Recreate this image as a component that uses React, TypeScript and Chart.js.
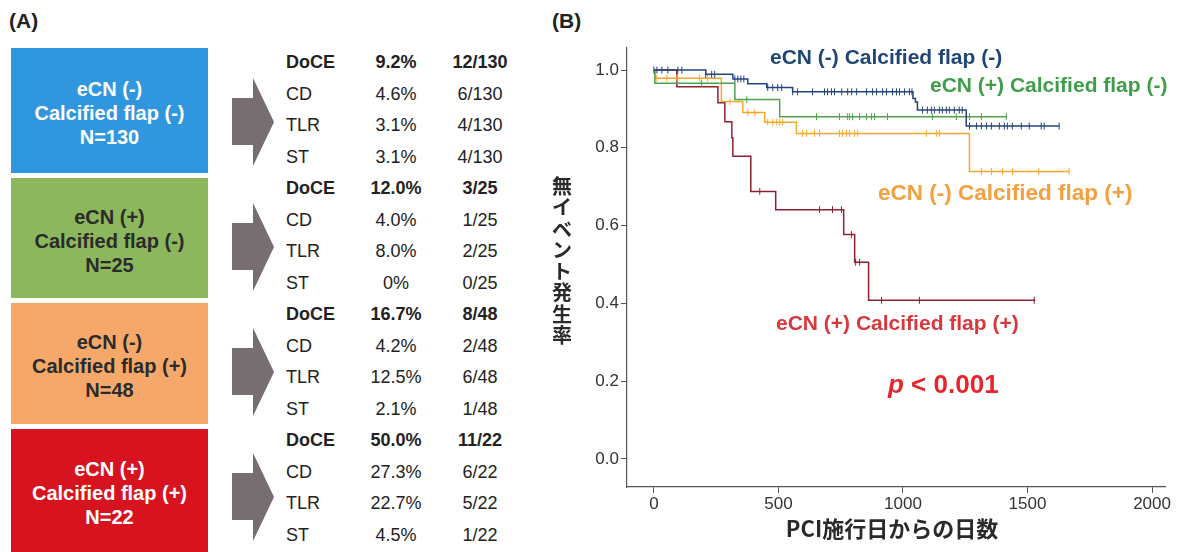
import React, { useEffect, useRef } from "react";
import { Chart, registerables } from "chart.js";
Chart.register(...registerables);

// ---------- Panel A data ----------
const groupECN = ["eCN (-)", "eCN (+)", "eCN (-)", "eCN (+)"];
const groupFlap = ["Calcified flap (-)", "Calcified flap (-)", "Calcified flap (+)", "Calcified flap (+)"];
const groupN = [130, 25, 48, 22];
const outcomes = ["DoCE", "CD", "TLR", "ST"];
const outcomePct = [
  ["9.2%", "4.6%", "3.1%", "3.1%"],
  ["12.0%", "4.0%", "8.0%", "0%"],
  ["16.7%", "4.2%", "12.5%", "2.1%"],
  ["50.0%", "27.3%", "22.7%", "4.5%"],
];
const outcomeCount = [
  ["12/130", "6/130", "4/130", "4/130"],
  ["3/25", "1/25", "2/25", "0/25"],
  ["8/48", "2/48", "6/48", "1/48"],
  ["11/22", "6/22", "5/22", "1/22"],
];

// ---------- Panel B data (Kaplan-Meier) ----------
const seriesNames = [
  "eCN (-) Calcified flap (-)",
  "eCN (+) Calcified flap (-)",
  "eCN (-) Calcified flap (+)",
  "eCN (+) Calcified flap (+)",
];
const xTicks = [0, 500, 1000, 1500, 2000];
const yTicks = [0, 0.2, 0.4, 0.6, 0.8, 1.0];

const blueTimes = [0, 208, 317, 377, 453, 557, 1040, 1050, 1058, 1254, 1627];
const blueSurv = [1.0, 0.989, 0.977, 0.965, 0.955, 0.944, 0.927, 0.918, 0.897, 0.856, 0.856];
const blueCensor = [0, 12, 32, 56, 96, 112, 208, 232, 244, 325, 337, 349, 361, 457, 477, 497, 513, 557, 577,
  637, 685, 697, 713, 725, 754, 778, 794, 814, 854, 878, 894, 918, 934, 958, 974, 986, 1006, 1026, 1036,
  1078, 1098, 1114, 1126, 1146, 1158, 1174, 1186, 1206, 1226, 1238,
  1267, 1295, 1315, 1335, 1355, 1387, 1407, 1419, 1439, 1475, 1507, 1555, 1567, 1627];

const greenTimes = [0, 4, 325, 505, 1415];
const greenSurv = [1.0, 0.966, 0.924, 0.88, 0.88];
const greenCensor = [192, 373, 653, 745, 778, 786, 798, 826, 854, 874, 886, 938, 1118, 1214, 1267, 1315, 1415];

const orangeTimes = [0, 3, 271, 357, 445, 572, 1267, 1667];
const orangeSurv = [1.0, 0.979, 0.919, 0.891, 0.866, 0.837, 0.739, 0.739];
const orangeCensor = [12, 52, 92, 184, 216, 305, 377, 405, 457, 477, 493, 505, 517, 597, 613, 645, 665, 745,
  757, 773, 786, 806, 818, 1094, 1134, 1146, 1315, 1355, 1400, 1440, 1545, 1667];

const redTimes = [0, 92, 257, 285, 313, 317, 389, 489, 762, 806, 862, 1531];
const redSurv = [1.0, 0.957, 0.916, 0.867, 0.826, 0.778, 0.688, 0.641, 0.577, 0.506, 0.408, 0.408];
const redCensor = [425, 665, 717, 753, 793, 810, 826, 914, 1066, 1527];

// ---------- styles ----------
const lineColors = ["#23457f", "#4ea24a", "#f4a92a", "#8e2033"];
const labelColors = ["#1f4676", "#3f9e4a", "#f5a03e", "#d6383d"];
const boxColors = ["#3097de", "#8cb75c", "#f5a86a", "#d7131f"];
const boxText = ["#ffffff", "#2b2b2b", "#2b2b2b", "#ffffff"];
const SANS = "'Liberation Sans', Arial, sans-serif";
const CJK = "'Noto Sans CJK JP', 'Liberation Sans', sans-serif";

function stepValue(times: number[], surv: number[], t: number) {
  let v = surv[0];
  for (let i = 0; i < times.length; i++) if (times[i] <= t) v = surv[i];
  return v;
}

function KMChart() {
  const ref = useRef<HTMLCanvasElement | null>(null);
  useEffect(() => {
    if (!ref.current) return;
    const groups = [
      [blueTimes, blueSurv, blueCensor],
      [greenTimes, greenSurv, greenCensor],
      [orangeTimes, orangeSurv, orangeCensor],
      [redTimes, redSurv, redCensor],
    ];
    const datasets: any[] = [];
    groups.forEach((g, k) => {
      const [T, S, C] = g;
      datasets.push({
        label: seriesNames[k],
        data: T.map((t, i) => ({ x: t, y: S[i] })),
        stepped: true,
        borderColor: lineColors[k],
        borderWidth: 1.5,
        pointRadius: 0,
        fill: false,
        order: k * 2 + 1,
      });
      datasets.push({
        label: seriesNames[k] + " censored",
        data: C.map((t) => ({ x: t, y: stepValue(T, S, t) })),
        showLine: false,
        pointStyle: "line",
        rotation: 90,
        pointRadius: 3.5,
        pointBorderWidth: 1,
        borderColor: lineColors[k],
        backgroundColor: lineColors[k],
        order: k * 2,
      });
    });
    const chart = new Chart(ref.current, {
      type: "line",
      data: { datasets },
      options: {
        animation: false,
        responsive: false,
        layout: { padding: { top: 48, right: 13, left: 0, bottom: 0 } },
        plugins: { legend: { display: false }, tooltip: { enabled: false } },
        scales: {
          x: {
            type: "linear",
            min: -108,
            max: 2052,
            afterBuildTicks: (s: any) => { s.ticks = xTicks.map((v) => ({ value: v })); },
            afterFit: (s: any) => { s.height = 65; },
            grid: { display: true, drawOnChartArea: false, drawTicks: true, tickLength: 6, color: "#555" },
            border: { display: true, color: "#555", width: 1.2 },
            ticks: { font: { size: 17, family: SANS }, color: "#333", padding: 1, maxRotation: 0, autoSkip: false, callback: (v: any) => String(v) },
          },
          y: {
            type: "linear",
            min: -0.072,
            max: 1.0566,
            afterBuildTicks: (s: any) => { s.ticks = yTicks.map((v) => ({ value: v })); },
            afterFit: (s: any) => { s.width = 87; },
            grid: { display: true, drawOnChartArea: false, drawTicks: true, tickLength: 6, color: "#555" },
            border: { display: true, color: "#555", width: 1.2 },
            ticks: { font: { size: 17, family: SANS }, color: "#333", padding: 2, autoSkip: false, callback: (v: any) => Number(v).toFixed(1) },
          },
        },
      },
    } as any);
    return () => chart.destroy();
  }, []);
  return <canvas ref={ref} width={638} height={552} style={{ position: "absolute", left: 540, top: 0, width: 638, height: 552 }} />;
}

export default function App() {
  const boxTops = [48, 178, 303, 429];
  const boxHeights = [125, 120, 121, 123];
  const rowY0 = 62;
  const rowStep = 31.5;
  const labelFont = 21;
  return (
    <div style={{ position: "fixed", left: 0, top: 0, width: 1178, height: 552, background: "#fff", overflow: "hidden", fontFamily: SANS, color: "#222" }}>
      {/* Panel A */}
      <div style={{ position: "absolute", left: 9, top: 9, fontSize: 21, fontWeight: "bold", lineHeight: "24px" }}>(A)</div>
      {groupECN.map((g, i) => (
        <div key={"box" + i} style={{ position: "absolute", left: 11, top: boxTops[i], width: 197, height: boxHeights[i], background: boxColors[i], color: boxText[i], display: "flex", flexDirection: "column", justifyContent: "center", alignItems: "center", fontWeight: "bold", fontSize: 20, lineHeight: "24px", paddingTop: 5, boxSizing: "border-box", whiteSpace: "nowrap" }}>
          <div>{g}</div>
          <div>{groupFlap[i]}</div>
          <div>N={groupN[i]}</div>
        </div>
      ))}
      {groupECN.map((_, i) => (
        <div key={"arr" + i} style={{ position: "absolute", left: 232, top: 78 + i * 125, width: 42, height: 88, background: "#776e71", clipPath: "polygon(0px 20px, 21px 20px, 21px 0px, 42px 44px, 21px 88px, 21px 67px, 0px 67px)" }} />
      ))}
      {outcomePct.map((grp, i) =>
        grp.map((p, j) => {
          const y = rowY0 + (i * 4 + j) * rowStep;
          const bold = j === 0 ? "bold" : "normal";
          return (
            <React.Fragment key={"r" + i + "_" + j}>
              <div style={{ position: "absolute", left: 286, top: y - 11, fontSize: 18, lineHeight: "22px", fontWeight: bold }}>{outcomes[j]}</div>
              <div style={{ position: "absolute", left: 346, width: 100, textAlign: "center", top: y - 11, fontSize: 18, lineHeight: "22px", fontWeight: bold }}>{p}</div>
              <div style={{ position: "absolute", left: 430, width: 100, textAlign: "center", top: y - 11, fontSize: 18, lineHeight: "22px", fontWeight: bold }}>{outcomeCount[i][j]}</div>
            </React.Fragment>
          );
        })
      )}
      {/* Panel B */}
      <div style={{ position: "absolute", left: 552, top: 9, fontSize: 21, fontWeight: "bold", lineHeight: "24px" }}>(B)</div>
      <KMChart />
      <div style={{ position: "absolute", left: 550, top: 175, width: 24, fontFamily: CJK, fontSize: 20, fontWeight: "bold", lineHeight: "21.3px", textAlign: "center", color: "#2a2a2a" }}>
        {"無イベント発生率".split("").map((c, i) => <div key={i}>{c}</div>)}
      </div>
      <div style={{ position: "absolute", left: 692, width: 400, textAlign: "center", top: 513, fontFamily: CJK, fontSize: 22, fontWeight: "bold", lineHeight: "28px", color: "#2a2a2a" }}>PCI施行日からの日数</div>
      <div style={{ position: "absolute", left: 770, top: 44, fontSize: labelFont, fontWeight: "bold", lineHeight: "26px", color: labelColors[0], whiteSpace: "nowrap" }}>{seriesNames[0]}</div>
      <div style={{ position: "absolute", left: 930, top: 72, fontSize: labelFont, fontWeight: "bold", lineHeight: "26px", color: labelColors[1], whiteSpace: "nowrap" }}>{seriesNames[1]}</div>
      <div style={{ position: "absolute", left: 878, top: 180, fontSize: 22.5, fontWeight: "bold", lineHeight: "26px", color: labelColors[2], whiteSpace: "nowrap" }}>{seriesNames[2]}</div>
      <div style={{ position: "absolute", left: 776, top: 310, fontSize: labelFont, fontWeight: "bold", lineHeight: "26px", color: labelColors[3], whiteSpace: "nowrap" }}>{seriesNames[3]}</div>
      <div style={{ position: "absolute", left: 888, top: 368, fontSize: 26, fontWeight: "bold", lineHeight: "32px", color: "#e5262e", whiteSpace: "nowrap" }}>
        <i>p</i> &lt; 0.001
      </div>
    </div>
  );
}
